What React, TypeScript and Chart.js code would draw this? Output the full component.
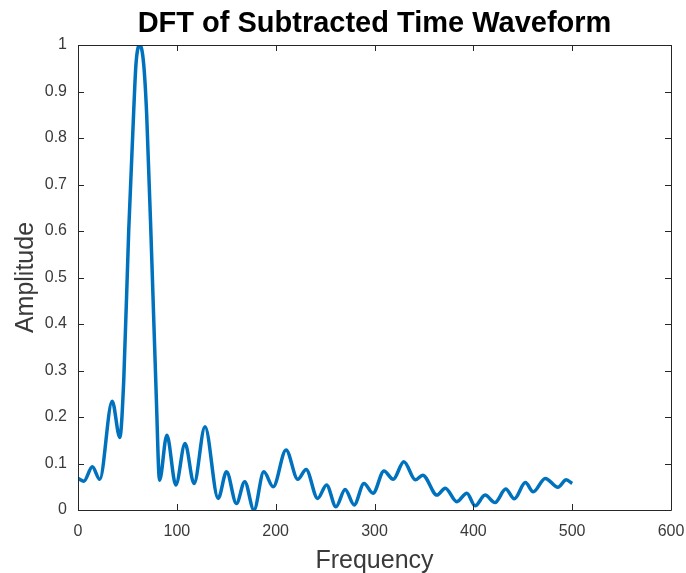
import React, { useEffect, useRef } from "react";
import { Chart, registerables } from "chart.js";

Chart.register(...registerables);

const freq = [
  0, 6, 14.5, 22, 34.6, 42.3, 46.3, 51.3, 56.4, 58.7, 62.5, 66.4, 69.5, 74.8, 79.2, 82.5,
  89.9, 99, 108.3, 117.4, 128.5, 141.8, 150.3, 160.3, 168.7, 178, 188, 197.5,
  210.5, 222.4, 230.8, 242.5, 251.5, 261, 270.3, 279.4, 289.4, 298.5, 309.6,
  318.9, 329.7, 341.4, 348.8, 363.2, 371.6, 383.3, 393.4, 401.8, 411.9, 421.9,
  432.8, 441.4, 452.7, 460.5, 472.8, 485.6, 494, 500,
];
const amplitude = [
  0.068, 0.062, 0.093, 0.066, 0.234, 0.156, 0.28, 0.6, 0.86, 0.96, 1.0, 0.96, 0.85, 0.53, 0.244, 0.064,
  0.161, 0.054, 0.143, 0.057, 0.179, 0.025, 0.082, 0.014, 0.061, 0.0, 0.082, 0.05,
  0.129, 0.066, 0.087, 0.025, 0.054, 0.007, 0.044, 0.011, 0.057, 0.036, 0.084,
  0.066, 0.104, 0.065, 0.075, 0.032, 0.047, 0.018, 0.036, 0.009, 0.032, 0.016,
  0.045, 0.024, 0.059, 0.039, 0.068, 0.049, 0.065, 0.057,
];
const xTicks = [0, 100, 200, 300, 400, 500, 600];
const yTicks = [0, 0.1, 0.2, 0.3, 0.4, 0.5, 0.6, 0.7, 0.8, 0.9, 1];

const titleText = "DFT of Subtracted Time Waveform";
const xTitle = "Frequency";
const yTitle = "Amplitude";

const FONT = "'Liberation Sans', Arial, Helvetica, sans-serif";
const AXIS_COLOR = "#262626";
const LABEL_COLOR = "#3a3a3a";

const framePlugin = {
  id: "matlabFrame",
  afterDraw(chart: any) {
    const { ctx, chartArea } = chart;
    const { left, right, top, bottom } = chartArea;
    const xs = chart.scales.x;
    const ys = chart.scales.y;
    ctx.save();
    ctx.strokeStyle = AXIS_COLOR;
    ctx.lineWidth = 1;
    ctx.beginPath();
    ctx.rect(Math.round(left) + 0.5, Math.round(top) + 0.5, Math.round(right - left), Math.round(bottom - top));
    ctx.stroke();
    const tl = 6;
    ctx.beginPath();
    xTicks.forEach((v) => {
      const px = Math.round(xs.getPixelForValue(v)) + 0.5;
      ctx.moveTo(px, bottom);
      ctx.lineTo(px, bottom - tl);
      ctx.moveTo(px, top);
      ctx.lineTo(px, top + tl);
    });
    yTicks.forEach((v) => {
      const py = Math.round(ys.getPixelForValue(v)) + 0.5;
      ctx.moveTo(left, py);
      ctx.lineTo(left + tl, py);
      ctx.moveTo(right, py);
      ctx.lineTo(right - tl, py);
    });
    ctx.stroke();

    ctx.fillStyle = "#000";
    ctx.textAlign = "center";
    ctx.textBaseline = "middle";
    ctx.font = `bold 29px ${FONT}`;
    ctx.fillText(titleText, (left + right) / 2, 24);

    ctx.fillStyle = LABEL_COLOR;
    ctx.font = `25px ${FONT}`;
    ctx.fillText(xTitle, (left + right) / 2, 561);

    ctx.translate(26, (top + bottom) / 2);
    ctx.rotate(-Math.PI / 2);
    ctx.fillText(yTitle, 0, 0);
    ctx.restore();
  },
};

export default function App() {
  const ref = useRef<HTMLCanvasElement | null>(null);
  useEffect(() => {
    document.body.style.margin = "0";
    const canvas = ref.current;
    if (!canvas) return;
    const data = freq.map((f, i) => ({ x: f, y: amplitude[i] }));
    const chart = new Chart(canvas, {
      type: "line",
      data: {
        datasets: [
          {
            data,
            borderColor: "#0072BD",
            borderWidth: 3.5,
            pointRadius: 0,
            fill: false,
            cubicInterpolationMode: "monotone",
          } as any,
        ],
      },
      options: {
        animation: false,
        responsive: false,
        maintainAspectRatio: false,
        layout: { padding: { top: 45, right: 15, left: 0, bottom: 0 } },
        plugins: {
          legend: { display: false },
          tooltip: { enabled: false },
          title: { display: false },
        },
        scales: {
          x: {
            type: "linear",
            min: 0,
            max: 600,
            afterBuildTicks: (s: any) => {
              s.ticks = xTicks.map((v) => ({ value: v }));
            },
            afterFit: (s: any) => {
              s.height = 63;
              s.paddingRight = 0;
              s.paddingLeft = 0;
            },
            grid: { display: false, drawTicks: false },
            border: { display: false },
            ticks: {
              color: LABEL_COLOR,
              font: { family: FONT, size: 16 },
              padding: 12,
              maxRotation: 0,
              callback: (v: any) => String(v),
            },
          },
          y: {
            type: "linear",
            min: 0,
            max: 1,
            afterBuildTicks: (s: any) => {
              s.ticks = yTicks.map((v) => ({ value: v }));
            },
            afterFit: (s: any) => {
              s.width = 78;
              s.paddingTop = 0;
              s.paddingBottom = 0;
            },
            grid: { display: false, drawTicks: false },
            border: { display: false },
            ticks: {
              color: LABEL_COLOR,
              font: { family: FONT, size: 16 },
              padding: 11,
              callback: (v: any) => String(Number(Number(v).toFixed(1))),
            },
          },
        },
      },
      plugins: [framePlugin],
    });
    return () => chart.destroy();
  }, []);
  return (
    <div style={{ position: "absolute", left: 0, top: 0, width: 686, height: 573, background: "#fff" }}>
      <canvas ref={ref} width={686} height={573} />
    </div>
  );
}
